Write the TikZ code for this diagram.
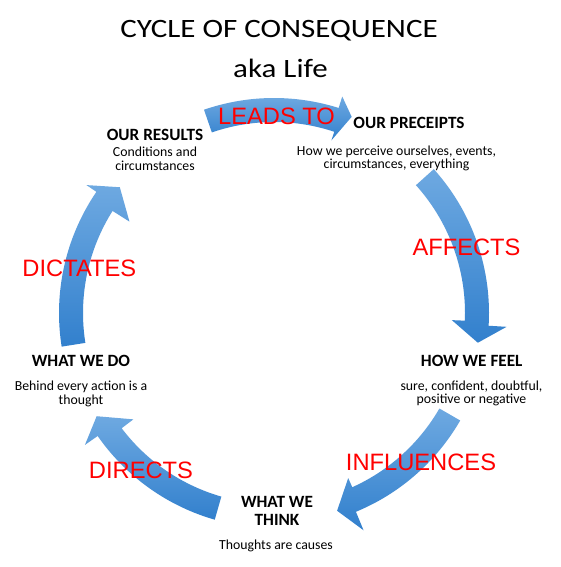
\documentclass[tikz,border=0pt]{standalone}
\usepackage{fontspec}
\usepackage{graphicx}
\setmainfont{Carlito}
\newfontfamily\redfont{Liberation Sans}
\definecolor{arrowlight}{RGB}{110,169,225}
\definecolor{arrowdark}{RGB}{50,128,205}
\definecolor{lblred}{RGB}{255,0,0}
% #1 tail angle, #2/#3 outer wing angle/radius, #4/#5 tip angle/radius, #6/#7 inner wing angle/radius
\newcommand{\cyclearrow}[7]{%
  \path[arrowshade] plot[domain=#1:#2,samples=40] (\x:215) -- (#2:#3) -- (#4:#5) -- (#6:#7)
    -- plot[domain=#6:#1,samples=40] (\x:191) -- cycle;}
\begin{document}
\begin{tikzpicture}[x=1pt,y=-1pt,
  titletext/.style={font=\fontsize{26.5}{30}\selectfont, inner sep=0, anchor=base},
  heading/.style={font=\bfseries\fontsize{17.2}{20}\selectfont, inner sep=0, anchor=base},
  desc/.style={font=\fontsize{13.8}{16}\selectfont, inner sep=0, anchor=base},
  verb/.style={font=\redfont\fontsize{23.7}{28}\selectfont, text=lblred, inner sep=0, anchor=base},
  arrowshade/.style={top color=arrowlight, bottom color=arrowdark}]
\useasboundingbox (0,0) rectangle (560,567);
\fill[white] (0,0) rectangle (560,567);
% curved block arrows of the cycle
\begin{scope}[shift={(274,313)}]
  \cyclearrow{251}{287.5}{227}{291.6}{211}{288.4}{182}
  \cyclearrow{318}{363.4}{233}{368.3}{206}{362.3}{178}
  \cyclearrow{30}{67.6}{235}{72.3}{207.6}{65.8}{181}
  \cyclearrow{106}{145.1}{230.5}{149.8}{205.2}{142.9}{176.3}
  \cyclearrow{171}{214.3}{227}{219.2}{199}{212.3}{171}
\end{scope}
% title
\node[titletext] (title) at (279,37.3) {\scalebox{1.17}[1]{CYCLE OF CONSEQUENCE}};
\node[titletext] (subtitle) at (280.5,77.3) {\scalebox{1.17}[1]{aka Life}};
% stages
\node[heading] (results) at (155,140) {OUR RESULTS};
\node[desc] (results1) at (155,156.5) {Conditions and};
\node[desc] (results2) at (155,170.7) {circumstances};
\node[heading] (precepts) at (409,128.3) {OUR PRECEIPTS};
\node[desc] (precepts1) at (396.5,155) {How we perceive ourselves, events,};
\node[desc] (precepts2) at (396.5,168.5) {circumstances, everything};
\node[heading] (feel) at (471.7,366) {HOW WE FEEL};
\node[desc] (feel1) at (471.5,390) {sure, confident, doubtful,};
\node[desc] (feel2) at (471.5,403.5) {positive or negative};
\node[heading] (think1) at (277,507.3) {WHAT WE};
\node[heading] (think2) at (277,525) {THINK};
\node[desc] (think3) at (276,549.3) {Thoughts are causes};
\node[heading] (do) at (81,366) {WHAT WE DO};
\node[desc] (do1) at (81,390.5) {Behind every action is a};
\node[desc] (do2) at (81,404.5) {thought};
% verbs on the arrows
\node[verb] (leads) at (276.5,124.5) {LEADS TO};
\node[verb] (affects) at (466.5,255) {AFFECTS};
\node[verb] (influences) at (421,470.7) {INFLUENCES};
\node[verb] (directs) at (141,478.3) {DIRECTS};
\node[verb] (dictates) at (79.3,276) {DICTATES};
\end{tikzpicture}
\end{document}
